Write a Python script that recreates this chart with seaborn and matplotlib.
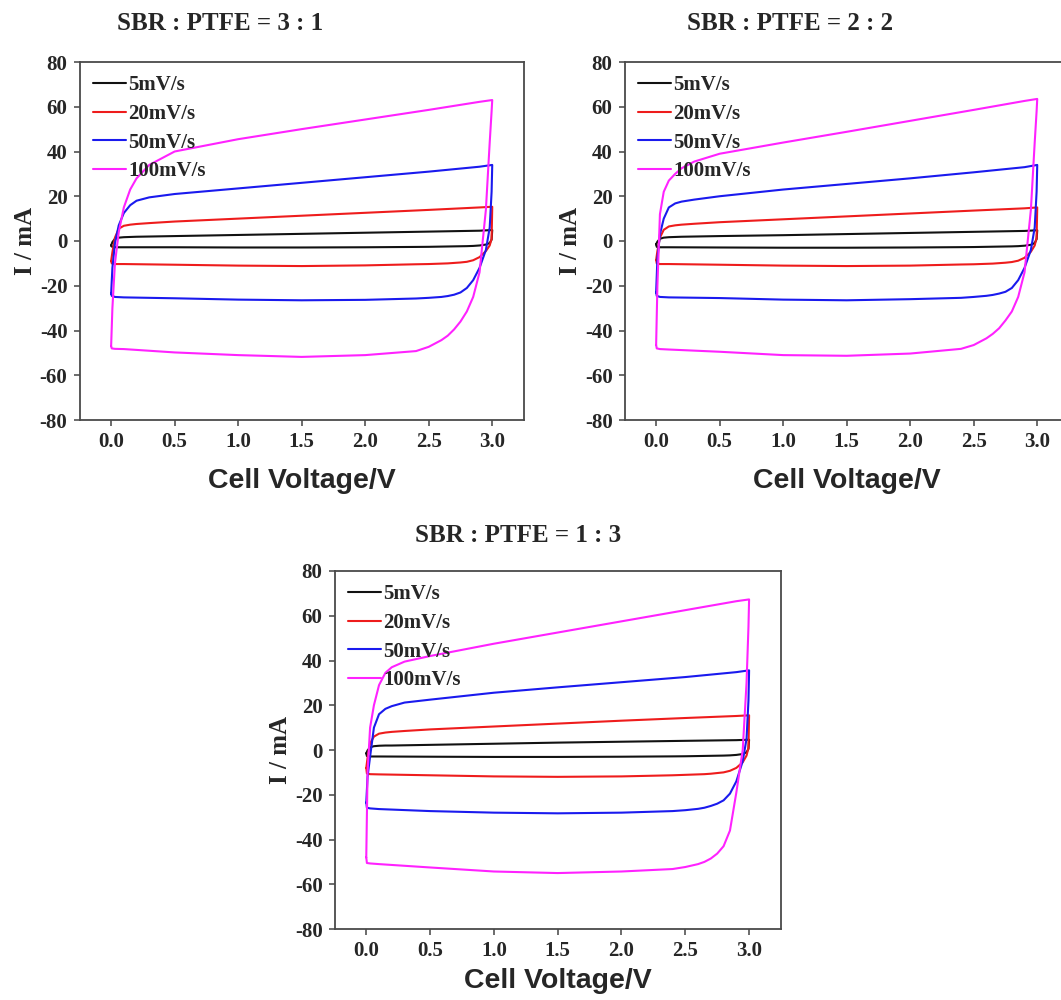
import numpy as np
import pandas as pd
import matplotlib
matplotlib.use("Agg")
import matplotlib.pyplot as plt
import seaborn as sns

# scan rates and colours
rates = ["5mV/s", "20mV/s", "50mV/s", "100mV/s"]
colors = ["#111111", "#ee1c1c", "#1a1aee", "#ff22ff"]

# cell voltage path of one CV cycle (0 -> 3 V, then 3 -> 0 V)
v_fwd = [0.0, 0.01, 0.03, 0.06, 0.1, 0.15, 0.2, 0.3, 0.5, 1.0, 1.5, 2.0, 2.5, 2.9, 3.0]
v_rev = [2.995, 2.98, 2.95, 2.9, 2.85, 2.8, 2.75, 2.7, 2.65, 2.6, 2.5, 2.4,
         2.0, 1.5, 1.0, 0.5, 0.1, 0.03, 0.005]

# currents (mA), SBR:PTFE = 3:1  (forward values, then reverse values)
i31_5 = [-2, -0.5, 1.0, 1.5, 1.7, 1.8, 1.9, 2.0, 2.2, 2.7, 3.2, 3.7, 4.2, 4.6, 4.9,
         0.6, -0.9, -1.6, -2.0, -2.2, -2.3, -2.35, -2.4, -2.45, -2.5, -2.6, -2.65,
         -2.8, -2.9, -2.9, -2.8, -2.8, -2.8, -2.5]
i31_20 = [-9, -5, 1.5, 5.5, 6.8, 7.3, 7.6, 8.0, 8.7, 10.0, 11.3, 12.6, 13.9, 15.0, 15.3,
          1, -2, -4.5, -7.2, -8.6, -9.3, -9.6, -9.8, -10.0, -10.1, -10.3, -10.4,
          -10.9, -11.2, -11.0, -10.6, -10.3, -10.3, -10.0]
i31_50 = [-23.5, -12, -1, 7, 12.5, 16, 18, 19.5, 21, 23.5, 26, 28.5, 31, 33.2, 34,
          22, 6, -4, -12, -17.5, -21, -23, -24, -24.6, -25, -25.4, -25.7,
          -26.3, -26.5, -26.2, -25.6, -25.2, -25.0, -24.5]
i31_100 = [-47, -30, -10, 4, 15, 23, 28, 34, 40, 45.5, 50, 54.3, 58.6, 62.2, 63,
           58, 44, 14, -14, -25, -31.5, -36, -39.5, -42.3, -44.3, -47.3, -49.2,
           -51, -51.8, -51, -49.8, -48.3, -48.2, -48]

# SBR:PTFE = 2:2
i22_5 = [-1.5, -0.3, 1.0, 1.5, 1.7, 1.8, 1.9, 2.0, 2.2, 2.6, 3.1, 3.6, 4.1, 4.5, 4.8,
         0.8, -0.9, -1.7, -2.1, -2.3, -2.4, -2.45, -2.5, -2.55, -2.6, -2.7, -2.75,
         -2.9, -3.0, -3.0, -2.9, -2.8, -2.8, -2.6]
i22_20 = [-8.5, -4.5, 1.5, 5.0, 6.5, 7.0, 7.3, 7.7, 8.4, 9.7, 11.0, 12.3, 13.6, 14.6, 15.0,
          1.5, -2, -4.8, -7.5, -8.8, -9.4, -9.7, -9.9, -10.1, -10.2, -10.4, -10.5,
          -11.0, -11.2, -11.0, -10.6, -10.3, -10.3, -10.0]
i22_50 = [-23, -8, 3, 10, 15, 16.8, 17.6, 18.5, 20, 23, 25.5, 28, 30.7, 33, 34,
          22, 6, -4, -12, -17.5, -21, -22.7, -23.5, -24.1, -24.5, -25.0, -25.4,
          -26.0, -26.5, -26.2, -25.5, -25.2, -25.0, -24.5]
i22_100 = [-46.5, -20, 12, 22, 27, 30, 32.5, 35.5, 39, 44, 48.8, 53.7, 58.6, 62.6, 63.5,
           58, 44, 14, -14, -25, -31.5, -35.5, -39, -41.5, -43.5, -46.5, -48.2,
           -50.3, -51.3, -51.0, -49.5, -48.5, -48.3, -48.0]

# SBR:PTFE = 1:3
i13_5 = [-1.5, -0.2, 1.2, 1.7, 1.9, 2.0, 2.0, 2.1, 2.3, 2.8, 3.3, 3.7, 4.1, 4.4, 4.6,
         0.5, -1.0, -1.8, -2.2, -2.4, -2.5, -2.55, -2.6, -2.65, -2.7, -2.8, -2.85,
         -3.0, -3.1, -3.1, -3.0, -2.9, -2.9, -2.7]
i13_20 = [-8, -3.5, 3.0, 6.0, 7.3, 7.8, 8.1, 8.5, 9.2, 10.5, 11.8, 13.1, 14.3, 15.2, 15.5,
          1.0, -2.5, -5.5, -8.0, -9.3, -10.0, -10.3, -10.6, -10.8, -10.9, -11.1, -11.3,
          -11.8, -12.0, -11.8, -11.3, -10.9, -10.8, -10.5]
i13_50 = [-23.5, -12, -3, 10, 16, 18.4, 19.6, 21.2, 22.5, 25.6, 28, 30.3, 32.6, 34.8, 35.6,
          22, 5, -5, -14, -19.5, -22.5, -24, -25.0, -25.8, -26.3, -26.9, -27.3,
          -28.0, -28.3, -28.0, -27.3, -26.4, -26.1, -25.8]
i13_100 = [-48, -10, 10, 20, 29, 34.5, 37, 39.5, 42, 47.5, 52.5, 57.5, 62.5, 66.5, 67.3,
           55, 30, 0, -19, -36, -43, -46.3, -48.5, -50, -51, -52.3, -53.2,
           -54.3, -55.0, -54.3, -52.5, -51.0, -50.7, -50.5]

titles = ["SBR : PTFE = 3 : 1", "SBR : PTFE = 2 : 2", "SBR : PTFE = 1 : 3"]
panels = [[i31_5, i31_20, i31_50, i31_100],
          [i22_5, i22_20, i22_50, i22_100],
          [i13_5, i13_20, i13_50, i13_100]]

serif = "Liberation Serif"
sans = "Liberation Sans"

sns.set_style("ticks")
plt.rcParams["font.family"] = [serif, "DejaVu Serif"]
plt.rcParams["axes.unicode_minus"] = False

W, H = 1061, 1000
fig = plt.figure(figsize=(W / 100, H / 100), dpi=100)

# axes boxes in pixels: left, top, width, height
boxes = [(80, 62, 444, 358), (625, 62, 444, 358), (335, 571, 446, 358)]
title_pos = [(220, 24), (790, 24), (518, 535)]
xlabel_pad = [11, 11, 5]


def make_df(currents):
    rows = []
    v = v_fwd + v_rev + [v_fwd[0]]
    for r, cur in zip(rates, currents):
        c = list(cur) + [cur[0]]
        for k in range(len(v)):
            rows.append({"V": v[k], "I": c[k], "rate": r, "step": k})
    return pd.DataFrame(rows)


for n in range(3):
    l, t, w, h = boxes[n]
    ax = fig.add_axes([l / W, 1 - (t + h) / H, w / W, h / H])
    df = make_df(panels[n])
    sns.lineplot(data=df, x="V", y="I", hue="rate", hue_order=rates,
                 palette=dict(zip(rates, colors)), sort=False, estimator=None,
                 linewidth=1.5, legend=False, ax=ax)
    ax.set_xlim(-0.245, 3.25)
    ax.set_ylim(-80, 80)
    ax.set_xticks(np.arange(0, 3.01, 0.5))
    ax.set_yticks(np.arange(-80, 81, 20))
    ax.set_xticklabels(["%.1f" % x for x in np.arange(0, 3.01, 0.5)])
    ax.tick_params(direction="out", length=4, width=1.1, color="#444444",
                   labelsize=15, pad=5, top=False, right=False)
    for lab in ax.get_xticklabels() + ax.get_yticklabels():
        lab.set_fontweight("bold")
        lab.set_fontfamily(serif)
    for s in ax.spines.values():
        s.set_visible(True)
        s.set_color("#4a4a4a")
        s.set_linewidth(1.3)
    ax.set_xlabel("Cell Voltage/V", fontsize=20.5, fontweight="bold",
                  fontfamily=sans, labelpad=xlabel_pad[n])
    ax.set_ylabel("I / mA", fontsize=18, fontweight="bold",
                  fontfamily=serif, labelpad=2)
    ax.legend(ax.get_lines()[:4], rates, loc="upper left", frameon=False,
              bbox_to_anchor=(0.02, 0.975), borderaxespad=0, borderpad=0.2,
              handlelength=1.6, handletextpad=0.1, labelspacing=0.42,
              prop={"family": serif, "weight": "bold", "size": 15})
    tx, ty = title_pos[n]
    fig.text(tx / W, 1 - ty / H, titles[n], ha="center", va="center",
             fontsize=18, fontweight="bold", fontfamily=serif)

fig.savefig("out.png", dpi=100, facecolor="white")
